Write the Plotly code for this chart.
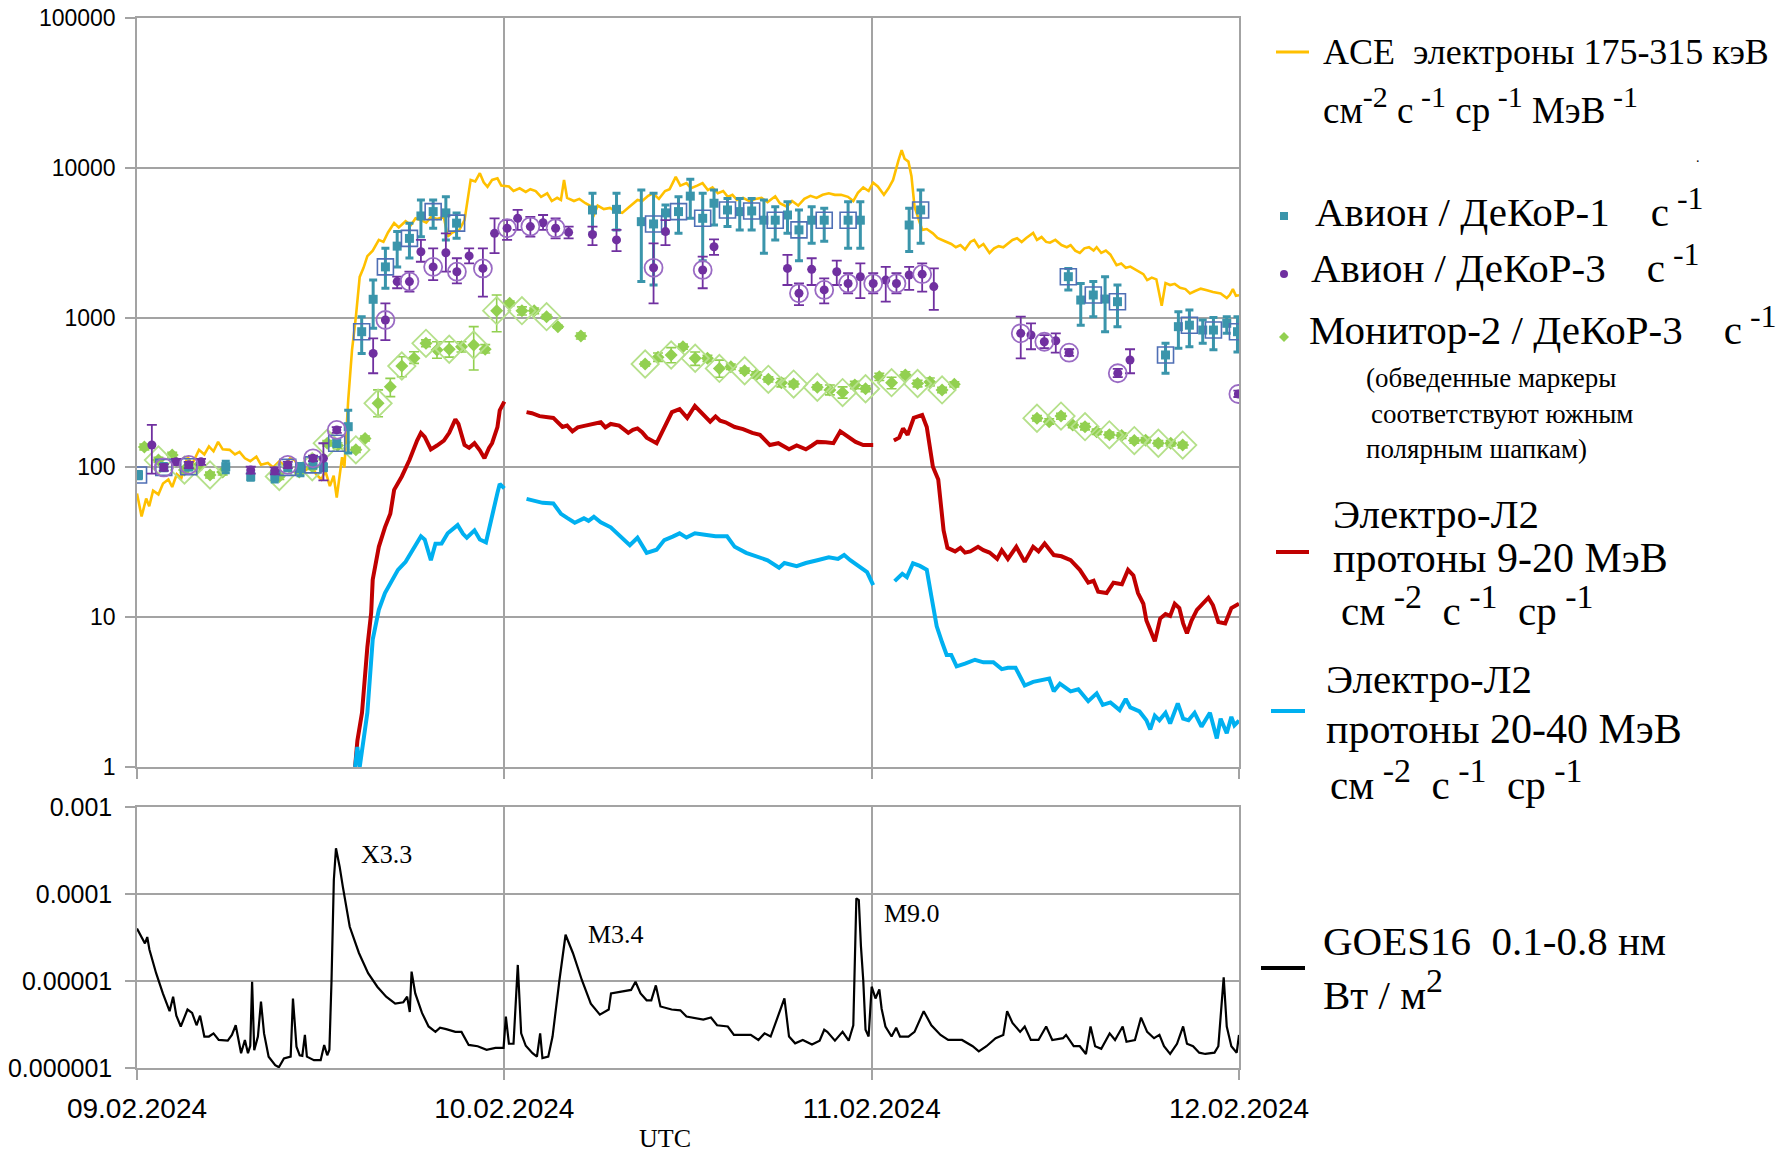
import math
import plotly.graph_objects as go

W, H = 1790, 1152
OFF = 0  # body margin is removed in the page (see write_html below)

# ---------------- axes / ticks ----------------
day_ticks = [0, 24, 48, 72]
day_labels = ["09.02.2024", "10.02.2024", "11.02.2024", "12.02.2024"]
top_ticks = [1, 10, 100, 1000, 10000, 100000]
top_tick_labels = ["1", "10", "100", "1000", "10000", "100000"]
bot_ticks = [1e-6, 1e-5, 1e-4, 1e-3]
bot_tick_labels = ["0.000001", "0.00001", "0.0001", "0.001"]

# ---------------- ACE electrons 175-315 keV (hours from 09.02 00:00) ----------------
ace_t = [0.0, 0.3, 0.6, 0.8, 1.05, 1.4, 1.7, 2.05, 2.3, 2.6,
         2.9, 3.3, 3.6, 4.05, 4.4, 4.7, 5.0, 5.3, 5.6, 6.05,
         6.4, 6.7, 7.05, 7.4, 7.8, 8.1, 8.55, 8.9, 9.3, 9.6,
         10.0, 10.3, 10.6, 11.05, 11.4, 11.7, 12.05, 12.3, 12.6, 12.85,
         13.05, 13.2, 13.4, 13.55, 13.8, 14.05, 14.3, 14.55, 14.8, 15.05,
         15.4, 15.8, 16.1, 16.4, 16.8, 17.1, 17.55, 17.9, 18.2, 18.55,
         18.9, 19.2, 19.6, 20.05, 20.3, 20.6, 21.05, 21.4, 21.8, 22.1,
         22.4, 22.65, 22.9, 23.2, 23.55, 23.8, 24.3, 24.6, 25.0, 25.4,
         25.7, 26.05, 26.4, 26.8, 27.1, 27.45, 27.7, 27.9, 28.1, 28.55,
         28.9, 29.3, 29.7, 29.8, 30.1, 30.5, 30.9, 31.3, 31.7, 32.0,
         32.4, 32.7, 33.0, 33.4, 33.7, 34.1, 34.5, 34.8, 35.2, 35.5,
         35.9, 36.2, 36.6, 36.95, 37.3, 37.6, 37.95, 38.3, 38.6, 38.9,
         39.2, 39.6, 40.0, 40.4, 40.8, 41.2, 41.7, 42.0, 42.45, 42.8,
         43.2, 43.6, 44.0, 44.4, 44.8, 45.2, 45.6, 46.0, 46.45, 46.8,
         47.1, 47.45, 47.8, 48.1, 48.4, 48.8, 49.1, 49.4, 49.75, 49.96,
         50.15, 50.4, 50.6, 50.8, 51.3, 51.6, 52.0, 52.3, 52.6, 52.9,
         53.2, 53.5, 53.8, 54.1, 54.45, 54.7, 55.0, 55.3, 55.7, 56.0,
         56.3, 56.6, 56.9, 57.2, 57.5, 57.8, 58.1, 58.55, 58.8, 59.1,
         59.4, 59.65, 60.0, 60.4, 60.75, 61.0, 61.3, 61.6, 61.9, 62.2,
         62.5, 62.7, 63.0, 63.3, 63.6, 64.0, 64.3, 64.6, 64.9, 65.2,
         65.5, 65.75, 66.0, 66.3, 66.6, 66.95, 67.2, 67.5, 67.8, 68.15,
         68.5, 68.8, 69.1, 69.5, 69.9, 70.3, 70.8, 71.2, 71.4, 71.6,
         71.8, 72.0]
ace_v = [67, 47, 62, 55, 70, 66, 78, 83, 74, 90,
         85, 118, 105, 131, 122, 138, 128, 148, 132, 131,
         122, 127, 115, 110, 118, 104, 107, 100, 110, 103,
         115, 112, 100, 96, 105, 90, 83, 95, 75, 88,
         63, 85, 117, 100, 282, 610, 1010, 1870, 2150, 2570,
         2800, 3300, 3200, 3700, 4280, 4000, 4400, 4150, 4600, 4470,
         4300, 4700, 4550, 4700, 3470, 3700, 3830, 4470, 8300, 8100,
         9200, 8000, 7470, 8300, 8500, 7600, 7500, 7000, 7300, 6900,
         7200, 7000, 6400, 6760, 6000, 6300, 6100, 8300, 6300, 6000,
         6200, 5800, 5500, 4700, 5600, 5300, 5400, 5100, 5000, 5300,
         5700, 6100, 6000, 6500, 6760, 6200, 7000, 7200, 8700, 7600,
         7900, 7300, 7600, 7900, 7100, 7400, 6760, 7000, 6400, 6600,
         6100, 6300, 6000, 6200, 6300, 5900, 6450, 5800, 5500, 6000,
         5600, 6200, 6500, 6300, 6600, 6760, 6600, 6600, 6400, 6000,
         6800, 7400, 7000, 7950, 7500, 6600, 7300, 8300, 11200, 13100,
         11500, 11000, 8800, 5500, 3850, 3900, 3650, 3400, 3300, 3200,
         3100, 2950, 3050, 2850, 3200, 3300, 2950, 3100, 2700, 2900,
         3000, 2950, 3100, 3300, 3390, 3200, 3400, 3670, 3300, 3450,
         3200, 3160, 3300, 3050, 2950, 3050, 2800, 2700, 2900, 2950,
         2800, 2950, 2700, 2800, 2630, 2240, 2300, 2150, 2190, 2100,
         2000, 1950, 1780, 1850, 1800, 1200, 1700, 1650, 1680, 1580,
         1550, 1450, 1500, 1560, 1520, 1480, 1450, 1350, 1420, 1550,
         1400, 1410]

# ---------------- Elektro-L2 protons 9-20 MeV (None = data gap) ----------------
p920_t = [14.25, 14.4, 14.7, 15.05, 15.3, 15.4, 15.8, 16.2, 16.55, 16.8,
          17.3, 17.8, 18.3, 18.55, 18.8, 19.2, 19.6, 20.05, 20.4, 20.8,
          21.0, 21.4, 21.7, 22.05, 22.4, 22.7, 23.0, 23.2, 23.55, 23.7,
          24.0, None,
          25.45, 25.8, 26.3, 26.8, 27.2, 27.8, 28.1, 28.45, 28.8, 29.3,
          29.95, 30.3, 30.6, 30.95, 31.5, 32.1, 32.4, 32.7, 33.0, 33.3,
          33.95, 34.45, 34.95, 35.45, 35.95, 36.45, 36.9, 37.45, 37.8, 38.1,
          38.45, 39.05, 39.6, 40.2, 40.7, 41.35, 41.9, 42.6, 43.1, 43.7,
          44.1, 44.45, 45.0, 45.5, 45.95, 46.3, 46.95, 47.45, 48.1, None,
          49.45, 49.8, 50.05, 50.35, 50.75, 51.3, 51.6, 52.0, 52.35, 52.7,
          52.95, 53.45, 53.8, 54.1, 54.45, 54.95, 55.3, 55.7, 56.2, 56.5,
          56.9, 57.45, 58.0, 58.55, 58.9, 59.3, 59.9, 60.4, 61.0, 61.6,
          62.15, 62.5, 62.8, 63.35, 63.8, 64.35, 64.75, 65.1, 65.4, 65.75,
          65.95, 66.3, 66.5, 66.85, 67.2, 67.5, 67.8, 68.1, 68.35, 68.6,
          68.9, 69.25, 70.0, 70.3, 70.65, 71.1, 71.5, 72.0]
p920_v = [1.0, 1.5, 2.3, 6.3, 10.7, 17.8, 29.5, 39.8, 49, 70.8,
          87, 112, 151, 170, 160, 132, 140, 151, 170, 209,
          195, 141, 135, 145, 130, 115, 135, 145, 186, 240,
          275, None,
          234, 230, 220, 215, 214, 186, 190, 174, 185, 190,
          195, 200, 185, 195, 190, 170, 178, 182, 172, 158,
          145, 186, 234, 245, 214, 257, 230, 202, 219, 205,
          200, 186, 180, 170, 165, 141, 145, 132, 140, 132,
          140, 148, 147, 145, 174, 165, 148, 141, 141, None,
          151, 158, 182, 165, 214, 224, 186, 101, 83, 38,
          29, 27.5, 29, 27, 27.5, 29.5, 28, 27, 24.5, 28,
          24.5, 29.5, 23.4, 29.5, 27.5, 31, 26, 25.5, 24, 20.7,
          17, 17.5, 14.8, 14.5, 17, 16.6, 20.7, 19, 14.5, 12.3,
          9.5, 7.6, 6.9, 9.8, 10.5, 10.2, 12.3, 11.5, 9.1, 7.8,
          9.5, 11.2, 13.5, 12, 9.3, 9.1, 11.5, 12.3]

# ---------------- Elektro-L2 protons 20-40 MeV ----------------
p2040_t = [14.25, 14.4, 14.55, 15.05, 15.4, 15.8, 16.2, 16.55, 17.05, 17.55,
           17.95, 18.3, 18.55, 18.8, 19.2, 19.5, 19.9, 20.3, 20.95, 21.3,
           21.55, 22.05, 22.4, 22.8, 23.2, 23.55, 23.7, 24.0, None,
           25.45, 26.0, 26.5, 27.2, 27.7, 28.1, 28.6, 29.2, 29.5, 29.85,
           30.3, 30.95, 31.6, 32.2, 32.7, 33.0, 33.3, 33.95, 34.45, 35.0,
           35.45, 35.9, 36.45, 37.1, 37.8, 38.55, 39.05, 39.8, 40.4, 41.2,
           41.95, 42.3, 43.1, 43.7, 44.45, 45.2, 45.8, 46.2, 46.6, 47.2,
           47.7, 48.1, None,
           49.5, 50.0, 50.3, 50.7, 51.15, 51.6, 51.9, 52.25, 52.6, 52.9,
           53.2, 53.55, 54.1, 54.75, 55.3, 55.95, 56.5, 56.9, 57.4, 58.0,
           58.55, 59.2, 59.6, 59.9, 60.3, 61.0, 61.5, 62.15, 62.7, 63.1,
           63.6, 64.2, 64.6, 64.9, 65.5, 65.95, 66.2, 66.5, 66.8, 67.2,
           67.5, 68.0, 68.35, 68.7, 69.1, 69.55, 70.1, 70.55, 70.8, 71.2,
           71.5, 71.7, 72.0]
p2040_v = [1.0, 1.36, 1.0, 2.3, 7.1, 11.2, 14.5, 17, 20.7, 23.4,
           27.5, 30.9, 34.7, 33, 24, 30.9, 31, 36.3, 41.2, 36,
           33.9, 38, 33, 31.6, 49, 67.6, 77.6, 72.4, None,
           61.7, 60, 58, 57.5, 49, 46, 42.7, 45.7, 44, 46.8,
           43, 39.8, 34.7, 30.2, 33.9, 30, 26.9, 28.2, 32.7, 34.5,
           36.3, 34, 36.3, 35.5, 34.7, 34.7, 29.5, 26.9, 25.5, 24,
           21.4, 23, 21.9, 23, 24, 25.1, 24.5, 26, 24, 21.9,
           20, 16.4, None,
           17.4, 19.5, 18.5, 22.9, 22, 20.7, 13.8, 8.7, 6.8, 5.6,
           5.6, 4.7, 4.9, 5.2, 5.0, 5.0, 4.5, 4.6, 4.6, 3.5,
           3.7, 3.8, 3.9, 3.2, 3.6, 3.2, 3.3, 2.75, 3.1, 2.6,
           2.7, 2.4, 2.85, 2.5, 2.35, 2.05, 1.78, 2.2, 2.05, 2.3,
           1.95, 2.66, 2.1, 2.05, 2.3, 1.86, 2.3, 1.55, 2.1, 1.68,
           2.16, 1.9, 2.04]

# ---------------- Avion / DeKoR-1 (s^-1) ----------------
d1_t = [0.1, 1.75, 3.38, 5.8, 7.43, 9.0, 9.85, 10.68, 11.5, 12.18,
        13.05, 13.8, 14.68, 15.43, 16.23, 17.0, 17.8, 18.55, 19.35, 20.18,
        20.88, 29.76, 31.33, 32.95, 33.75, 34.53, 35.38, 36.15, 36.96, 37.7,
        38.58, 39.38, 40.16, 40.96, 41.7, 42.5, 43.25, 44.08, 44.9, 46.46,
        47.26, 50.45, 51.2, 60.85, 61.66, 62.48, 63.25, 64.06, 67.2, 68.04,
        68.76, 69.63, 70.33, 71.2, 71.9]
d1_v = [89, 100, 101, 101, 87, 87, 100, 98, 104, 100,
        145, 187, 805, 1325, 2180, 3000, 3380, 4770, 5100, 5000,
        4270, 5230, 5280, 4370, 4220, 5000, 5100, 6470, 4600, 5800,
        5230, 5100, 5150, 4470, 4470, 4840, 3850, 4470, 4470, 4470,
        4470, 4150, 5230, 1875, 1310, 1415, 1330, 1277, 563, 870,
        890, 826, 826, 916, 805]
d1_lo = [84, 95, 96, 92, 82, 80, 95, 88, 99, 95,
         138, 125, 577, 850, 1570, 2180, 2500, 3470, 3950, 3300,
         3380, 3650, 3850, 1740, 1650, 3650, 3650, 4600, 2400, 4150,
         4050, 3850, 3850, 2690, 3300, 3650, 2400, 3130, 3230, 2900,
         2900, 2760, 3130, 1530, 890, 1014, 805, 870, 425, 624,
         640, 673, 610, 785, 590]
d1_hi = [94, 106, 106, 110, 92, 94, 105, 106, 109, 106,
         152, 241, 1014, 1780, 2900, 3750, 4270, 6100, 6100, 6400,
         5000, 6760, 6760, 7100, 6760, 5650, 6400, 8400, 6760, 7100,
         6250, 6250, 6250, 6100, 5500, 5940, 5230, 5500, 5370, 5940,
         5940, 5370, 7100, 2130, 1690, 1740, 1875, 1650, 673, 1095,
         1125, 964, 1000, 1014, 1014]
d1_south = [1, 1, 1, 0, 0, 0, 1, 0, 1, 0,
            1, 0, 1, 0, 1, 0, 1, 0, 1, 0,
            1, 0, 0, 0, 1, 0, 1, 0, 1, 0,
            1, 0, 1, 0, 1, 0, 1, 0, 1, 1,
            0, 0, 1, 1, 0, 1, 0, 1, 1, 0,
            1, 0, 1, 0, 1]

# ---------------- Avion / DeKoR-3 (s^-1) ----------------
d3_t = [0.97, 1.75, 2.55, 3.38, 4.18, 7.43, 9.0, 9.85, 11.5, 12.18,
        13.05, 15.43, 16.23, 17.0, 17.8, 18.55, 19.35, 20.18, 20.9, 21.7,
        22.6, 23.36, 24.18, 24.87, 25.7, 26.53, 27.35, 28.2, 29.76, 31.33,
        33.75, 34.53, 36.96, 37.7, 42.5, 43.25, 44.08, 44.9, 45.72, 46.46,
        47.26, 48.1, 48.92, 49.62, 50.45, 51.3, 52.06, 57.74, 58.41, 59.28,
        60.03, 60.9, 64.08, 64.88, 71.96]
d3_v = [141, 100, 109, 104, 109, 96, 95, 104, 115, 115,
        178, 577, 964, 1740, 1740, 2750, 2180, 2710, 2025, 2580,
        2130, 3650, 3950, 4600, 4050, 4300, 3950, 3710, 3590, 3300,
        2150, 3750, 2080, 2970, 2130, 1453, 2100, 1530, 2025, 1690,
        1875, 1690, 1780, 1690, 1925, 1950, 1610, 785, 765, 690,
        700, 583, 425, 521, 309]
d3_lo = [91, 95, 104, 99, 104, 91, 90, 99, 110, 82,
         170, 425, 708, 1570, 1490, 2360, 1780, 2025, 1690, 2300,
         1380, 2690, 3300, 3850, 3470, 3850, 3380, 3380, 3050, 2780,
         1245, 3050, 1570, 2620, 1650, 1213, 1650, 1245, 1650, 1453,
         1350, 1453, 1277, 1453, 1530, 1490, 1125, 535, 615, 625,
         583, 555, 400, 425, 295]
d3_hi = [192, 105, 114, 109, 114, 101, 100, 109, 120, 145,
         186, 727, 1245, 1875, 2025, 3300, 2900, 3650, 2490, 2900,
         2900, 4600, 4470, 5230, 4700, 4840, 4600, 4050, 4050, 3850,
         3130, 4470, 2550, 3330, 2620, 1690, 2490, 1830, 2400, 1980,
         2300, 1980, 2180, 1980, 2180, 2300, 2130, 1014, 916, 765,
         785, 615, 455, 615, 325]
d3_south = [0, 1, 0, 1, 0, 0, 0, 1, 1, 0,
            1, 0, 1, 0, 1, 0, 1, 0, 1, 0,
            1, 0, 1, 0, 1, 0, 1, 0, 0, 0,
            1, 0, 1, 0, 0, 1, 0, 1, 0, 1,
            0, 1, 0, 1, 0, 1, 0, 1, 0, 1,
            0, 1, 1, 0, 1]

# ---------------- Monitor-2 / DeKoR-3 (s^-1) ----------------
m2_t = [0.48, 1.4, 2.3, 3.1, 3.95, 4.77, 5.6, 9.3, 10.6, 11.45,
        12.43, 13.1, 14.3, 14.9, 15.75, 16.55, 17.3, 18.1, 18.88, 19.6,
        20.4, 21.2, 22.0, 22.75, 23.5, 24.35, 25.15, 25.95, 26.76, 27.5,
        29.0, 33.2, 34.04, 34.9, 35.67, 36.47, 37.27, 38.05, 38.8, 39.7,
        40.45, 41.25, 42.1, 42.9, 44.45, 45.27, 46.1, 46.9, 47.6, 48.5,
        49.3, 50.2, 51.0, 51.8, 52.6, 53.4, 58.8, 59.6, 60.37, 61.14,
        61.94, 62.7, 63.53, 64.33, 65.16, 65.9, 66.73, 67.54, 68.32]
m2_v = [137, 112, 121, 96, 101, 89, 93, 87, 93, 101,
        145, 140, 131, 156, 268, 346, 475, 535, 673, 608,
        615, 640, 656, 615, 1112, 1245, 1112, 1112, 1014, 870,
        753, 490, 543, 563, 640, 535, 535, 458, 470, 442,
        414, 387, 368, 360, 343, 329, 316, 355, 335, 403,
        368, 414, 363, 372, 329, 359, 213, 202, 220, 192,
        187, 173, 165, 163, 151, 152, 145, 145, 141]
m2_lo = [131, 108, 116, 92, 97, 85, 89, 83, 89, 97,
         139, 134, 126, 150, 218, 297, 403, 495, 640, 535,
         545, 590, 447, 580, 805, 1200, 1040, 1060, 980, 850,
         720, 475, 510, 500, 615, 480, 510, 400, 450, 425,
         395, 372, 345, 345, 330, 305, 290, 335, 320, 380,
         335, 395, 345, 350, 315, 345, 204, 194, 210, 184,
         178, 166, 158, 156, 145, 146, 139, 139, 135]
m2_hi = [143, 117, 126, 100, 105, 93, 97, 91, 97, 105,
         151, 146, 136, 162, 329, 393, 548, 592, 710, 690,
         690, 690, 870, 660, 1415, 1290, 1180, 1160, 1050, 890,
         790, 505, 580, 630, 665, 590, 560, 520, 490, 460,
         435, 402, 392, 375, 356, 355, 345, 375, 350, 425,
         400, 435, 382, 395, 343, 373, 222, 211, 230, 200,
         196, 180, 172, 170, 157, 158, 151, 151, 147]
m2_south = [0, 1, 0, 1, 0, 1, 0, 1, 0, 1,
            1, 0, 1, 0, 1, 0, 1, 0, 1, 0,
            1, 0, 1, 0, 1, 0, 1, 0, 1, 0,
            0, 1, 0, 1, 0, 1, 0, 1, 0, 1,
            0, 1, 0, 1, 1, 0, 1, 0, 1, 0,
            1, 0, 1, 0, 1, 0, 1, 0, 1, 0,
            1, 0, 1, 0, 1, 0, 1, 0, 1]

# ---------------- GOES-16 X-ray 0.1-0.8 nm (W/m^2) ----------------
goes_t = [0.0, 0.23, 0.52, 0.67, 0.81, 1.25, 1.69, 2.13, 2.36, 2.57,
          2.86, 3.3, 3.6, 3.89, 4.12, 4.4, 4.7, 5.0, 5.34, 5.93,
          6.2, 6.45, 6.8, 7.05, 7.25, 7.4, 7.52, 7.66, 7.9, 8.1,
          8.3, 8.6, 9.03, 9.27, 9.6, 10.04, 10.19, 10.42, 10.63, 10.8,
          10.97, 11.1, 11.56, 12.0, 12.23, 12.43, 12.57, 12.71, 12.86, 13.0,
          13.24, 13.45, 13.9, 14.5, 15.1, 15.7, 16.28, 16.87, 17.4, 17.65,
          17.82, 17.94, 18.18, 18.62, 19.05, 19.5, 19.8, 20.2, 20.8, 21.2,
          21.67, 22.26, 22.84, 23.42, 23.95, 24.1, 24.3, 24.6, 24.88, 25.1,
          25.4, 25.84, 26.13, 26.34, 26.49, 26.87, 27.15, 27.6, 28.0, 28.48,
          29.07, 29.65, 30.24, 30.82, 30.97, 31.55, 32.28, 32.57, 32.9, 33.3,
          33.6, 33.9, 34.2, 34.93, 35.5, 35.9, 36.25, 37.0, 37.5, 37.9,
          38.6, 39.0, 40.1, 40.6, 41.0, 41.4, 42.3, 42.6, 43.0, 43.5,
          44.1, 44.6, 44.9, 45.1, 45.6, 46.1, 46.5, 46.8, 47.0, 47.16,
          47.3, 47.45, 47.6, 47.8, 48.0, 48.25, 48.5, 48.65, 48.9, 49.3,
          49.6, 49.85, 50.4, 50.8, 51.4, 51.9, 52.5, 53.0, 53.9, 54.6,
          55.0, 55.5, 56.1, 56.6, 56.85, 57.2, 57.7, 58.0, 58.4, 58.9,
          59.4, 59.8, 60.5, 60.7, 61.2, 61.6, 62.0, 62.3, 62.6, 63.0,
          63.55, 63.9, 64.4, 64.65, 65.2, 65.6, 66.0, 66.45, 66.8, 67.1,
          67.5, 67.95, 68.35, 68.6, 69.0, 69.4, 69.8, 70.4, 70.65, 70.9,
          71.0, 71.2, 71.5, 71.85, 72.0]
goes_v = [4.0e-5, 3.4e-5, 2.7e-5, 3.2e-5, 2.3e-5, 1.23e-5, 7.2e-6, 4.5e-6, 6.6e-6, 4.0e-6,
          3.0e-6, 4.7e-6, 4.3e-6, 3.1e-6, 4.0e-6, 2.3e-6, 2.3e-6, 2.5e-6, 2.1e-6, 2.06e-6,
          2.4e-6, 3.1e-6, 1.48e-6, 2.1e-6, 1.48e-6, 1.8e-6, 9.8e-6, 1.6e-6, 2.3e-6, 5.8e-6,
          2.5e-6, 1.35e-6, 1.08e-6, 1.02e-6, 1.29e-6, 1.35e-6, 6.3e-6, 1.76e-6, 1.4e-6, 1.38e-6,
          2.4e-6, 1.35e-6, 1.23e-6, 1.23e-6, 1.84e-6, 1.4e-6, 1.62e-6, 1.02e-5, 1.45e-4, 3.35e-4,
          2.06e-4, 1.21e-4, 4.2e-5, 2.1e-5, 1.23e-5, 8.6e-6, 6.6e-6, 5.5e-6, 5.7e-6, 6.6e-6,
          4.4e-6, 1.28e-5, 7.2e-6, 4.3e-6, 3.0e-6, 2.6e-6, 2.9e-6, 2.8e-6, 2.6e-6, 2.6e-6,
          1.84e-6, 1.78e-6, 1.62e-6, 1.7e-6, 1.7e-6, 3.9e-6, 1.9e-6, 1.9e-6, 1.53e-5, 2.5e-6,
          1.8e-6, 1.48e-6, 1.35e-6, 2.5e-6, 1.3e-6, 1.35e-6, 2.3e-6, 1.02e-5, 3.4e-5, 2.1e-5,
          1.02e-5, 5.5e-6, 4.1e-6, 4.7e-6, 7.2e-6, 7.5e-6, 7.9e-6, 9.8e-6, 7.2e-6, 6.0e-6,
          6.0e-6, 8.9e-6, 5.1e-6, 4.7e-6, 4.6e-6, 3.9e-6, 3.8e-6, 3.6e-6, 3.8e-6, 3.1e-6,
          3.0e-6, 2.4e-6, 2.4e-6, 2.1e-6, 2.5e-6, 2.3e-6, 6.3e-6, 2.3e-6, 1.92e-6, 2.1e-6,
          1.86e-6, 2.06e-6, 2.75e-6, 2.6e-6, 2.06e-6, 2.6e-6, 2.06e-6, 3.1e-6, 8.9e-5, 8.5e-5,
          2.5e-5, 1.02e-5, 2.75e-6, 2.3e-6, 8.6e-6, 6.3e-6, 8.0e-6, 4.8e-6, 3.0e-6, 2.3e-6,
          2.9e-6, 2.3e-6, 2.3e-6, 2.6e-6, 4.5e-6, 3.1e-6, 2.4e-6, 2.1e-6, 2.1e-6, 1.78e-6,
          1.55e-6, 1.78e-6, 2.2e-6, 2.4e-6, 4.5e-6, 3.3e-6, 2.6e-6, 3.0e-6, 2.1e-6, 2.1e-6,
          3.0e-6, 2.1e-6, 2.2e-6, 2.4e-6, 1.78e-6, 1.78e-6, 1.45e-6, 3.0e-6, 1.78e-6, 1.66e-6,
          2.5e-6, 2.1e-6, 3.0e-6, 2.0e-6, 2.1e-6, 3.8e-6, 2.6e-6, 2.2e-6, 2.4e-6, 1.78e-6,
          1.45e-6, 1.9e-6, 3.0e-6, 1.9e-6, 1.78e-6, 1.5e-6, 1.45e-6, 1.5e-6, 1.78e-6, 6.3e-6,
          1.1e-5, 3.0e-6, 1.78e-6, 1.5e-6, 2.4e-6]

flare_t = [13.0, 28.0, 47.0]
flare_v = [3.35e-4, 3.4e-5, 9.0e-5]
flare_names = ["X3.3", "M3.4", "M9.0"]

# ---------------- styling ----------------
C_ACE = "#FFC000"
C_RED = "#C00000"
C_CYAN = "#00B0F0"
C_TEAL = "#3A95AB"
C_TEAL_RING = "#4F6FB5"
C_PURP = "#7030A0"
C_PURP_RING = "#9A6BC4"
C_GREEN = "#92D050"
C_GREEN_RING = "#B5E08A"
GRID = "#A3A3A3"
SERIF = "Liberation Serif, Times New Roman, serif"
NARROW = "Liberation Sans Narrow, Arial Narrow, Liberation Sans, sans-serif"

# plot frame in window pixels
X0, X1 = 137, 1239
TOP_Y0, TOP_Y1 = 18, 767
BOT_Y0, BOT_Y1 = 807, 1068


def px(x):
    return (x - OFF) / W


def py(y):
    return 1 - (y - OFF) / H


def errs(v, lo, hi):
    return [h - a for a, h in zip(v, hi)], [a - l for a, l in zip(v, lo)]


def pick(vals, flags):
    return [a for a, f in zip(vals, flags) if f]


fig = go.Figure()

# lines (top panel)
fig.add_trace(go.Scatter(x=ace_t, y=ace_v, mode="lines", line=dict(color=C_ACE, width=2.6),
                         xaxis="x", yaxis="y", showlegend=False))
fig.add_trace(go.Scatter(x=p920_t, y=p920_v, mode="lines", line=dict(color=C_RED, width=4),
                         connectgaps=False, xaxis="x", yaxis="y", showlegend=False))
fig.add_trace(go.Scatter(x=p2040_t, y=p2040_v, mode="lines", line=dict(color=C_CYAN, width=4),
                         connectgaps=False, xaxis="x", yaxis="y", showlegend=False))

# Monitor-2 diamonds
up, dn = errs(m2_v, m2_lo, m2_hi)
fig.add_trace(go.Scatter(x=m2_t, y=m2_v, mode="markers",
                         marker=dict(symbol="diamond", size=10, color=C_GREEN),
                         error_y=dict(type="data", array=up, arrayminus=dn, color=C_GREEN,
                                      thickness=1.6, width=5),
                         xaxis="x", yaxis="y", showlegend=False))
fig.add_trace(go.Scatter(x=pick(m2_t, m2_south), y=pick(m2_v, m2_south), mode="markers",
                         marker=dict(symbol="diamond-open", size=21, color=C_GREEN_RING,
                                     line=dict(width=1.8, color=C_GREEN_RING)),
                         xaxis="x", yaxis="y", showlegend=False))

# DeKoR-1 squares
up, dn = errs(d1_v, d1_lo, d1_hi)
fig.add_trace(go.Scatter(x=d1_t, y=d1_v, mode="markers",
                         marker=dict(symbol="square", size=9, color=C_TEAL),
                         error_y=dict(type="data", array=up, arrayminus=dn, color=C_TEAL,
                                      thickness=3, width=4),
                         xaxis="x", yaxis="y", showlegend=False))
fig.add_trace(go.Scatter(x=pick(d1_t, d1_south), y=pick(d1_v, d1_south), mode="markers",
                         marker=dict(symbol="square-open", size=16, color=C_TEAL_RING,
                                     line=dict(width=1.6, color=C_TEAL_RING)),
                         xaxis="x", yaxis="y", showlegend=False))

# DeKoR-3 circles
up, dn = errs(d3_v, d3_lo, d3_hi)
fig.add_trace(go.Scatter(x=d3_t, y=d3_v, mode="markers",
                         marker=dict(symbol="circle", size=9, color=C_PURP),
                         error_y=dict(type="data", array=up, arrayminus=dn, color=C_PURP,
                                      thickness=1.8, width=5),
                         xaxis="x", yaxis="y", showlegend=False))
fig.add_trace(go.Scatter(x=pick(d3_t, d3_south), y=pick(d3_v, d3_south), mode="markers",
                         marker=dict(symbol="circle-open", size=18, color=C_PURP_RING,
                                     line=dict(width=1.8, color=C_PURP_RING)),
                         xaxis="x", yaxis="y", showlegend=False))

# GOES (bottom panel)
fig.add_trace(go.Scatter(x=goes_t, y=goes_v, mode="lines", line=dict(color="black", width=2.2),
                         xaxis="x2", yaxis="y2", showlegend=False))

axis_common = dict(showgrid=True, gridcolor=GRID, gridwidth=1.5, showline=True, mirror=True,
                   linecolor=GRID, linewidth=1.5, zeroline=False, ticks="outside", ticklen=10,
                   tickcolor=GRID, tickwidth=1.5, automargin=False, ticklabeloverflow="allow")

fig.update_layout(
    width=W, height=H, margin=dict(l=0, r=0, t=0, b=0, autoexpand=False),
    paper_bgcolor="white", plot_bgcolor="white",
    xaxis=dict(domain=[px(X0), px(X1)], range=[0, 72], anchor="y", tickvals=day_ticks,
               showticklabels=False, **axis_common),
    yaxis=dict(domain=[py(TOP_Y1), py(TOP_Y0)], type="log", range=[0, 5], anchor="x",
               tickvals=top_ticks, ticktext=top_tick_labels, ticklabelstandoff=5,
               tickfont=dict(family=NARROW, size=23, color="black"), **axis_common),
    xaxis2=dict(domain=[px(X0), px(X1)], range=[0, 72], anchor="y2", tickvals=day_ticks,
                ticktext=day_labels, ticklabelstandoff=5,
                tickfont=dict(family=NARROW, size=28, color="black"), **axis_common),
    yaxis2=dict(domain=[py(BOT_Y1), py(BOT_Y0)], type="log", range=[-6, -3], anchor="x2",
                tickvals=bot_ticks, ticktext=bot_tick_labels, ticklabelstandoff=8,
                tickfont=dict(family=NARROW, size=25, color="black"), **axis_common),
)

# flare labels, placed beside each flare peak (log axis -> annotation y in log10 units)
flare_xshift = [23, 20, 26]
flare_yshift = [-6, 0, -16]
for t, v, name, dx, dy in zip(flare_t, flare_v, flare_names, flare_xshift, flare_yshift):
    fig.add_annotation(x=t, y=math.log10(v), xref="x2", yref="y2",
                       text=name, showarrow=False, xanchor="left", yanchor="middle",
                       xshift=dx, yshift=dy, font=dict(family=SERIF, size=26, color="black"))

fig.add_annotation(x=px(665), y=py(1138), xref="paper", yref="paper", text="UTC", showarrow=False,
                   xanchor="center", yanchor="middle", font=dict(family=SERIF, size=26, color="black"))


def label(x, y, text, size=40):
    fig.add_annotation(x=px(x), y=py(y), xref="paper", yref="paper", text=text, showarrow=False,
                       xanchor="left", yanchor="middle", align="left",
                       font=dict(family=SERIF, size=size, color="black"))


def swatch_line(x0, x1, y, color, width):
    fig.add_shape(type="line", xref="paper", yref="paper", x0=px(x0), x1=px(x1), y0=py(y), y1=py(y),
                  line=dict(color=color, width=width))


NB = "\u00a0"


def sup(s, size):
    return f"<sup><span style='font-size:{size}px'>{s}</span></sup>"


# ACE
swatch_line(1276, 1309, 52, C_ACE, 3)
label(1321, 52, "ACE" + NB * 2 + "электроны 175-315 кэВ", 36)
label(1321, 106, "см" + sup("-2", 30) + NB + "с" + sup(NB + "-1", 30) + NB + "ср" + sup(NB + "-1", 30)
      + NB + "МэВ" + sup(NB + "-1", 30), 37)

# markers
fig.add_shape(type="rect", xref="paper", yref="paper", x0=px(1280), x1=px(1288), y0=py(212), y1=py(220),
              fillcolor=C_TEAL, line=dict(width=0))
label(1313, 207, "Авион / ДеКоР-1" + NB * 4 + "с" + sup(NB + "-1", 32), 41)
fig.add_shape(type="circle", xref="paper", yref="paper", x0=px(1280), x1=px(1288), y0=py(270), y1=py(278),
              fillcolor=C_PURP, line=dict(width=0))
label(1309, 263, "Авион / ДеКоР-3" + NB * 4 + "с" + sup(NB + "-1", 32), 41)
fig.add_shape(type="path", xref="paper", yref="paper",
              path=f"M {px(1284)},{py(332)} L {px(1289)},{py(337)} L {px(1284)},{py(342)} L {px(1279)},{py(337)} Z",
              fillcolor=C_GREEN, line=dict(width=0))
label(1307, 325, "Монитор-2 / ДеКоР-3" + NB * 4 + "с" + sup(NB + "-1", 32), 41)
label(1364, 378, "(обведенные маркеры", 27)
label(1369, 414, "соответствуют южным", 27)
label(1364, 449, "полярным шапкам)", 27)
label(1694, 157, ".", 14)

# protons 9-20
swatch_line(1276, 1309, 552, C_RED, 4)
label(1331, 514, "Электро-Л2", 41)
label(1331, 558, "протоны 9-20 МэВ", 42)
label(1339, 606, "см" + sup(NB + "-2", 34) + NB * 2 + "с" + sup(NB + "-1", 34) + NB * 2 + "ср"
      + sup(NB + "-1", 34), 41)

# protons 20-40
swatch_line(1271, 1305, 711, C_CYAN, 4)
label(1324, 679, "Электро-Л2", 41)
label(1324, 729, "протоны 20-40 МэВ", 42)
label(1328, 780, "см" + sup(NB + "-2", 34) + NB * 2 + "с" + sup(NB + "-1", 34) + NB * 2 + "ср"
      + sup(NB + "-1", 34), 41)

# GOES
swatch_line(1261, 1305, 968, "black", 4)
label(1321, 941, "GOES16" + NB * 2 + "0.1-0.8 нм", 41)
label(1321, 990, "Вт / м" + sup("2", 34), 41)

fig.write_html("out.html", config={"displayModeBar": False},
               post_script="document.body.style.margin='0px';")
